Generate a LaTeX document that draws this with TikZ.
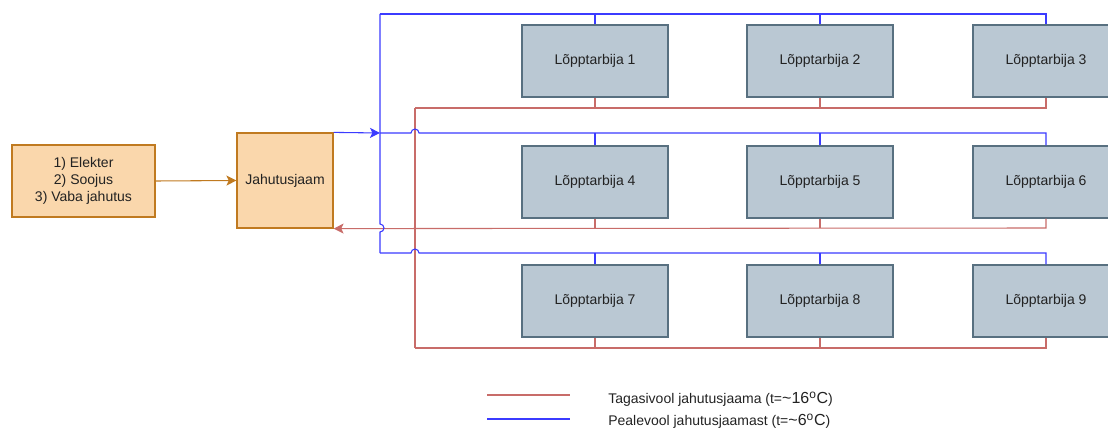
\documentclass[tikz,border=0pt]{standalone}
\usepackage{fontspec}
\setmainfont{Liberation Sans}
\usetikzlibrary{arrows.meta}
\definecolor{consfill}{HTML}{BAC8D3}
\definecolor{consline}{HTML}{587080}
\definecolor{srcfill}{HTML}{FAD7AC}
\definecolor{srcline}{HTML}{C07A20}
\definecolor{supplyc}{HTML}{3B3BFF}
\definecolor{returnc}{HTML}{C86C69}
\definecolor{txt}{HTML}{222222}
\tikzset{
  basefont/.style={font=\fontsize{10.5}{13}\selectfont, text=txt},
  consumer/.style={basefont, draw=consline, fill=consfill, line width=1.1pt,
    minimum width=109.5pt, minimum height=54pt, inner sep=0pt},
  source/.style={basefont, draw=srcline, fill=srcfill, line width=0.9pt, inner sep=0pt},
  supply/.style={draw=supplyc, line width=0.8pt},
  return/.style={draw=returnc, line width=0.8pt},
  feed/.style={draw=srcline, line width=0.8pt, -{Stealth[length=7.5pt,width=7.5pt,inset=1.8pt]}},
  tipb/.style={-{Stealth[length=7.5pt,width=7.5pt,inset=1.8pt]}},
  legendtext/.style={basefont, anchor=west, inner sep=0pt},
}
\begin{document}
\begin{tikzpicture}[x=0.75pt,y=-0.75pt]
\useasboundingbox (0,0) rectangle (1108,428);

% energy sources and cooling station
\node[source, minimum width=107.25pt, minimum height=54pt, align=center] (src) at (83.5,181)
  {1) Elekter\\2) Soojus\\3) Vaba jahutus};
\node[source, minimum width=72pt, minimum height=71.25pt] (jj) at (285,180.5) {Jahutusjaam};
\draw[feed] (src.east) -- (jj.west);

% end consumers
\node[consumer] (t1) at (595,61)  {Lõpptarbija 1};
\node[consumer] (t2) at (820,61)  {Lõpptarbija 2};
\node[consumer] (t3) at (1046,61) {Lõpptarbija 3};
\node[consumer] (t4) at (595,182)  {Lõpptarbija 4};
\node[consumer] (t5) at (820,182)  {Lõpptarbija 5};
\node[consumer] (t6) at (1046,182) {Lõpptarbija 6};
\node[consumer] (t7) at (595,301)  {Lõpptarbija 7};
\node[consumer] (t8) at (820,301)  {Lõpptarbija 8};
\node[consumer] (t9) at (1046,301) {Lõpptarbija 9};

% pipe corner points
\coordinate (bt) at (380,14);   % supply, top row
\coordinate (bm) at (380,133);  % supply, middle row
\coordinate (bb) at (380,253);  % supply, bottom row
\coordinate (rt) at (415,108);  % return, top row
\coordinate (rm) at (415,228);  % return, middle row
\coordinate (rb) at (415,348);  % return, bottom row

% return pipes (red)
\draw[return] (rt) -- (rb);
\draw[return] (rt) -- (rt -| t3.south) -- (t3.south);
\draw[return] (t1.south) -- (t1.south |- rt);
\draw[return] (t2.south) -- (t2.south |- rt);
\draw[return, tipb] (t6.south) -- (t6.south |- rm) -- (jj.south east);
\draw[return] (t4.south) -- (t4.south |- rm);
\draw[return] (t5.south) -- (t5.south |- rm);
\draw[return] (rb) -- (rb -| t9.south) -- (t9.south);
\draw[return] (t7.south) -- (t7.south |- rb);
\draw[return] (t8.south) -- (t8.south |- rb);

% supply pipes (blue), hopping over the return lines
\draw[supply, tipb] (jj.north east) -- (bm);
\draw[supply] (bt) -- ([yshift=3pt]bt |- rm) arc[start angle=90, end angle=-90, radius=3pt] -- (bb);
\draw[supply] (bt) -- (bt -| t3.north) -- (t3.north);
\draw[supply] (t1.north) -- (t1.north |- bt);
\draw[supply] (t2.north) -- (t2.north |- bt);
\draw[supply] (bm) -- ([xshift=-3pt]bm -| rt) arc[start angle=180, end angle=0, radius=3pt]
  -- (bm -| t6.north) -- (t6.north);
\draw[supply] (t4.north) -- (t4.north |- bm);
\draw[supply] (t5.north) -- (t5.north |- bm);
\draw[supply] (bb) -- ([xshift=-3pt]bb -| rt) arc[start angle=180, end angle=0, radius=3pt]
  -- (bb -| t9.north) -- (t9.north);
\draw[supply] (t7.north) -- (t7.north |- bb);
\draw[supply] (t8.north) -- (t8.north |- bb);

% legend
\coordinate (lr1) at (487,395);
\coordinate (lr2) at (570,395);
\coordinate (lb1) at (487,419);
\coordinate (lb2) at (570,419);
\draw[return] (lr1) -- (lr2);
\draw[supply] (lb1) -- (lb2);
\node[legendtext] (lgr) at (608,399) {Tagasivool jahutusjaama (t=\raisebox{0.3pt}{\fontsize{12}{12}\selectfont\char`\~16}\textsuperscript{\fontsize{9}{9}\selectfont o}{\fontsize{12}{12}\selectfont C})};
\node[legendtext] (lgb) at (608,421) {Pealevool jahutusjaamast (t=\raisebox{0.3pt}{\fontsize{12}{12}\selectfont\char`\~6}\textsuperscript{\fontsize{9}{9}\selectfont o}{\fontsize{12}{12}\selectfont C})};
\end{tikzpicture}
\end{document}
